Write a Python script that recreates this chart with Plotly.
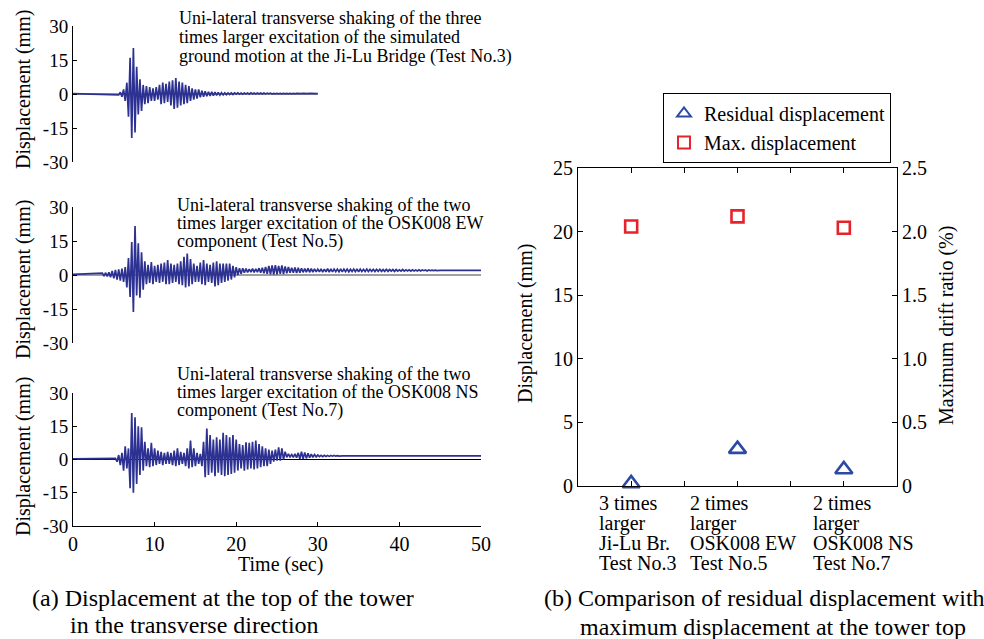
import plotly.graph_objects as go

# ---------------- data ----------------
dt = 0.2  # sampling step of the digitised records (s)

# Test No.3 (record lasts 30 s)
p1_t0 = 5.6
p1_base = 0.2
p1_vals = [
    -0.4, 0.8, -1.2, 2.0, -3.0, 5.0, -10.0, 16.0, -19.4, 20.3,
    -17.0, 12.0, -9.0, 6.5, -7.5, 4.0, -4.5, 3.5, -4.0, 3.0,
    -3.0, 2.5, -3.0, 3.0, -2.5, 4.0, -4.5, 5.0, -4.0, 4.5,
    -3.5, 5.5, -5.0, 6.0, -6.6, 7.0, -6.0, 5.5, -5.0, 5.0,
    -4.5, 4.0, -4.0, 3.5, -3.0, 2.5, -2.5, 2.0, -2.0, 2.0,
    -1.5, 1.5, -1.2, 1.2, -1.0, 1.0, -0.8, 1.0, -0.7, 0.8,
    -0.6, 0.7, -0.5, 0.6, -0.4, 0.5, -0.3, 0.5,
    -0.2, 0.5, -0.2, 0.5, -0.1, 0.5, -0.1, 0.4, -0.1, 0.4,
    0.0, 0.4, -0.1, 0.5, 0.0, 0.4, 0.0, 0.4, 0.0, 0.4,
    0.0, 0.4, 0.0, 0.4, 0.1, 0.4, 0.0, 0.3, 0.1, 0.3,
    0.1, 0.3, 0.1, 0.3, 0.1, 0.3, 0.1, 0.3, 0.1, 0.3,
    0.1, 0.3, 0.2, 0.3, 0.2, 0.3, 0.2, 0.3, 0.2, 0.3,
    0.2, 0.2, 0.2, 0.2, 0.2,
]
p1_zero_end = 30.0

# Test No.5
p2_t0 = 3.6
p2_base = 0.3
p2_final = 2.0
p2_vals = [
    0.8, -0.5, 1.0, -0.6, 1.2, -1.0, 1.8, -1.5, 2.2, -2.0,
    2.5, -2.5, 2.8, -3.0, 3.5, -5.5, 7.5, -9.7, 14.5, -16.3,
    21.6, -9.0, 14.0, -10.0, 10.0, -6.5, 6.0, -4.0, 4.5, -3.5,
    5.7, -4.0, 4.0, -3.0, 4.5, -3.5, 5.0, -3.0, 5.5, -4.0,
    6.6, -4.0, 5.0, -3.5, 4.5, -3.0, 5.0, -4.0, 6.0, -4.5,
    8.0, -5.5, 9.5, -5.0, 7.0, -4.0, 5.0, -3.0, 4.0, -3.0,
    5.5, -4.0, 6.6, -4.5, 5.0, -3.0, 4.5, -3.5, 5.5, -5.0,
    6.0, -4.5, 5.0, -3.5, 5.0, -3.0, 5.0, -2.5, 5.0, -2.0,
    4.0, -1.0, 3.5, 0.0, 3.0, 0.5, 3.0, 1.0, 2.8, 1.2,
    2.6, 1.3, 2.8, 1.2, 2.7, 1.3, 3.0, 1.0, 3.2, 0.8,
    3.5, 0.5, 4.0, 0.3, 4.2, 0.2, 4.4, 0.3, 4.0, 0.5,
    4.2, 0.4, 3.8, 0.8, 3.5, 1.0, 3.2, 1.0, 3.3, 0.9,
    3.2, 1.0, 3.0, 1.2, 2.8, 1.3, 2.9, 1.2, 2.8, 1.3,
    2.7, 1.4, 2.6, 1.4, 2.7, 1.3, 2.6, 1.4, 2.8, 1.3,
    2.7, 1.4, 2.6, 1.5, 2.6, 1.4, 2.7, 1.4, 2.6, 1.5,
    2.6, 1.4, 2.5, 1.5, 2.6, 1.5, 2.7, 1.4, 2.6, 1.5,
    2.5, 1.5, 2.6, 1.5, 2.5, 1.6, 2.5, 1.5, 2.5, 1.6,
    2.5, 1.6, 2.4, 1.6, 2.5, 1.6, 2.4, 1.7, 2.4, 1.6,
    2.4, 1.7, 2.3, 1.7, 2.4, 1.7, 2.3, 1.8, 2.3, 1.7,
    2.3, 1.8, 2.2, 1.8, 2.3, 1.8, 2.2, 1.9, 2.2, 1.8,
    2.2, 1.9, 2.1, 1.9, 2.1, 1.9, 2.1, 2.0,
]

# Test No.7
p3_t0 = 5.2
p3_base = 0.3
p3_final = 1.6
p3_vals = [
    0.5, -1.0, 2.0, -2.5, 3.0, -5.0, 6.0, -4.0, 5.0, -13.0,
    21.0, -15.0, 19.0, -11.0, 15.0, -7.0, 14.5, -5.0, 8.0, -3.0,
    5.0, -3.5, 7.5, -3.0, 5.0, -2.5, 4.0, -2.0, 3.5, -2.5,
    3.0, -2.0, 3.5, -2.0, 3.0, -2.5, 4.0, -3.0, 5.0, -2.5,
    3.5, -2.0, 3.0, -3.0, 5.0, -4.0, 8.5, -3.5, 5.0, -3.0,
    3.0, -2.0, 2.5, -3.0, 8.0, -8.0, 14.0, -7.0, 11.0, -6.0,
    9.0, -7.5, 10.0, -6.0, 9.0, -7.0, 12.0, -7.5, 11.0, -7.0,
    10.0, -6.5, 11.0, -6.0, 9.0, -5.0, 7.0, -4.0, 6.5, -5.0,
    7.8, -4.5, 7.5, -4.0, 8.0, -4.5, 8.5, -4.0, 7.0, -3.5,
    6.0, -3.0, 5.0, -3.0, 4.5, -2.0, 4.0, -1.0, 4.5, -0.5,
    5.5, -0.5, 5.0, 0.0, 3.5, 1.0, 2.5, 1.2, 2.2, 1.0,
    2.5, 0.8, 3.0, 0.3, 3.5, 0.2, 3.2, 0.5, 2.8, 0.8,
    2.4, 1.0, 2.2, 1.2, 2.0, 1.3, 1.9, 1.3, 1.9, 1.4,
    1.8, 1.4, 1.8, 1.5, 1.8, 1.5, 1.7, 1.5, 1.7, 1.6,
]
t_end = 50.0

# Right panel
categories = [
    ["3 times", "larger", "Ji-Lu Br.", "Test No.3"],
    ["2 times", "larger", "OSK008 EW", "Test No.5"],
    ["2 times", "larger", "OSK008 NS", "Test No.7"],
]
cat_pos = [1, 2, 3]
residual_disp = [0.2, 2.9, 1.3]
max_disp = [20.4, 21.2, 20.3]

disp_ticks = [-30, -15, 0, 15, 30]
time_ticks = [0, 10, 20, 30, 40, 50]
right_ticks = [0, 5, 10, 15, 20, 25]
drift_ticks = [0, 0.5, 1.0, 1.5, 2.0, 2.5]
drift_text = ["0", "0.5", "1.0", "1.5", "2.0", "2.5"]

notes = [
    ["Uni-lateral transverse shaking of the three",
     "times larger excitation of the simulated",
     "ground motion at the Ji-Lu Bridge (Test No.3)"],
    ["Uni-lateral transverse shaking of the two",
     "times larger excitation of the OSK008 EW",
     "component (Test No.5)"],
    ["Uni-lateral transverse shaking of the two",
     "times larger excitation of the OSK008 NS",
     "component (Test No.7)"],
]

# ---------------- helpers ----------------
W, H = 984, 639
FONT = "Liberation Serif, Times New Roman, serif"
NAVY = "#2D3192"


def px(x):
    return x / W


def py(y):
    return 1 - y / H


def series(t0, vals, base, final=None):
    t = [0.0] + [round(t0 + i * dt, 3) for i in range(len(vals))]
    d = [base] + list(vals)
    if final is not None:
        t.append(t_end)
        d.append(final)
    return t, d


fig = go.Figure()

# zero reference lines
fig.add_trace(go.Scatter(x=[0, p1_zero_end], y=[0, 0], mode="lines",
                         line=dict(color="#808080", width=1.5),
                         xaxis="x", yaxis="y", showlegend=False, hoverinfo="skip"))
fig.add_trace(go.Scatter(x=[0, t_end], y=[0, 0], mode="lines",
                         line=dict(color="#808080", width=1.5),
                         xaxis="x2", yaxis="y2", showlegend=False, hoverinfo="skip"))
fig.add_trace(go.Scatter(x=[0, t_end], y=[0, 0], mode="lines",
                         line=dict(color="black", width=1.2),
                         xaxis="x3", yaxis="y3", showlegend=False, hoverinfo="skip"))

for (t0, vals, base, final), xa, ya in [
    ((p1_t0, p1_vals, p1_base, None), "x", "y"),
    ((p2_t0, p2_vals, p2_base, p2_final), "x2", "y2"),
    ((p3_t0, p3_vals, p3_base, p3_final), "x3", "y3"),
]:
    t, d = series(t0, vals, base, final)
    fig.add_trace(go.Scatter(x=t, y=d, mode="lines",
                             line=dict(color=NAVY, width=1.7),
                             xaxis=xa, yaxis=ya, showlegend=False))

# right panel markers
fig.add_trace(go.Scatter(x=cat_pos, y=residual_disp, mode="markers",
                         name="Residual displacement",
                         marker=dict(symbol="triangle-up-open", size=15,
                                     color="#2B4BA3", line=dict(width=2.6, color="#2B4BA3")),
                         xaxis="x4", yaxis="y4", cliponaxis=False))
fig.add_trace(go.Scatter(x=cat_pos, y=max_disp, mode="markers",
                         name="Max. displacement",
                         marker=dict(symbol="square-open", size=12,
                                     color="#E6232A", line=dict(width=2.6, color="#E6232A")),
                         xaxis="x4", yaxis="y4", cliponaxis=False))
# invisible carrier so the secondary (drift ratio) axis is drawn
fig.add_trace(go.Scatter(x=[cat_pos[0]], y=[drift_ticks[0]], mode="markers",
                         marker=dict(opacity=0), xaxis="x4", yaxis="y5",
                         showlegend=False, hoverinfo="skip"))

# ---------------- axes ----------------
tick_font = dict(family=FONT, size=19, color="black")
xdom = [px(73), px(481)]
ydoms = [[py(162), py(26)], [py(343), py(207)], [py(526), py(393)]]

common_y = dict(range=[-30, 30], tickvals=disp_ticks,
                ticktext=[str(v) for v in disp_ticks],
                showline=True, linecolor="black", linewidth=1,
                ticks="inside", ticklen=4, tickcolor="black",
                showgrid=False, zeroline=False, tickfont=tick_font,
                automargin=False)

layout = dict(
    width=W, height=H,
    margin=dict(l=0, r=0, t=0, b=0, autoexpand=False),
    paper_bgcolor="white", plot_bgcolor="rgba(0,0,0,0)",
    font=dict(family=FONT, color="black"),
    xaxis=dict(domain=xdom, range=[0, 50], visible=False, anchor="y", automargin=False),
    xaxis2=dict(domain=xdom, range=[0, 50], visible=False, anchor="y2", automargin=False),
    xaxis3=dict(domain=xdom, range=[0, 50], anchor="y3",
                tickvals=time_ticks, showline=True, linecolor="black",
                linewidth=1, ticks="inside", ticklen=4, tickcolor="black",
                showgrid=False, zeroline=False, automargin=False,
                tickfont=dict(family=FONT, size=20)),
    yaxis=dict(domain=ydoms[0], anchor="x", **common_y),
    yaxis2=dict(domain=ydoms[1], anchor="x2", **common_y),
    yaxis3=dict(domain=ydoms[2], anchor="x3", **common_y),
    xaxis4=dict(domain=[px(578), px(897)], range=[0.5, 3.5], anchor="y4",
                tickvals=[1, 1.5, 2, 2.5, 3], showticklabels=False,
                showline=True, linecolor="black", linewidth=1, mirror="ticks",
                ticks="inside", ticklen=5, tickcolor="black",
                showgrid=False, zeroline=False, automargin=False),
    yaxis4=dict(domain=[py(486), py(168)], range=[0, 25], anchor="x4",
                tickvals=right_ticks, showline=True, linecolor="black",
                linewidth=1, mirror=True, ticks="inside", ticklen=5,
                tickcolor="black", showgrid=False, zeroline=False,
                automargin=False, tickfont=dict(family=FONT, size=20)),
    yaxis5=dict(overlaying="y4", side="right", anchor="x4", range=[0, 2.5],
                tickvals=drift_ticks, ticktext=drift_text,
                showline=True, linecolor="black", linewidth=1,
                ticks="inside", ticklen=5, tickcolor="black",
                showgrid=False, zeroline=False, automargin=False,
                tickfont=dict(family=FONT, size=20)),
    legend=dict(x=px(663), y=py(93), xanchor="left", yanchor="top",
                bgcolor="white", bordercolor="black", borderwidth=1,
                font=dict(family=FONT, size=20), itemsizing="constant",
                tracegroupgap=0),
    showlegend=True,
)
fig.update_layout(**layout)

ann = []
# panel notes
note_x = [177, 175, 175]
note_y = [[18, 37, 56], [205, 223, 241], [374, 392, 410]]
for lines, nx, ys in zip(notes, note_x, note_y):
    for line, yy in zip(lines, ys):
        ann.append(dict(text=line, x=px(nx), y=py(yy), xref="paper", yref="paper",
                        xanchor="left", yanchor="middle", showarrow=False,
                        font=dict(family=FONT, size=18)))

# left y-titles
for yc in [90, 280, 457]:
    ann.append(dict(text="Displacement (mm)", x=px(23), y=py(yc), xref="paper",
                    yref="paper", textangle=-90, showarrow=False,
                    xanchor="center", yanchor="middle",
                    font=dict(family=FONT, size=20)))
ann.append(dict(text="Time (sec)", x=px(280), y=py(564), xref="paper", yref="paper",
                showarrow=False, xanchor="center", yanchor="middle",
                font=dict(family=FONT, size=20)))
# right titles
ann.append(dict(text="Displacement (mm)", x=px(525), y=py(324), xref="paper",
                yref="paper", textangle=-90, showarrow=False,
                xanchor="center", yanchor="middle",
                font=dict(family=FONT, size=20)))
ann.append(dict(text="Maximum drift ratio (%)", x=px(946), y=py(326), xref="paper",
                yref="paper", textangle=-90, showarrow=False,
                xanchor="center", yanchor="middle",
                font=dict(family=FONT, size=20)))

# category labels
cat_shift = [-34, -50, -33]
line_y = [503, 523, 543, 563]
for pos, lines, sh in zip(cat_pos, categories, cat_shift):
    for line, yy in zip(lines, line_y):
        ann.append(dict(text=line, x=pos, y=py(yy), xref="x4", yref="paper",
                        xanchor="left", yanchor="middle", xshift=sh,
                        showarrow=False, font=dict(family=FONT, size=20)))

# captions
caps = [("(a) Displacement at the top of the tower", 30, 598),
        ("in the transverse direction", 68, 625),
        ("(b) Comparison of residual displacement with", 542, 598),
        ("maximum displacement at the tower top", 578, 627)]
for text, cx, cy in caps:
    ann.append(dict(text=text, x=px(cx), y=py(cy), xref="paper", yref="paper",
                    xanchor="left", yanchor="middle", showarrow=False,
                    font=dict(family=FONT, size=24)))

fig.update_layout(annotations=ann)
fig.write_html("out.html", config={"displayModeBar": False},
               post_script="document.body.style.margin='0px';document.body.style.overflow='hidden';")
